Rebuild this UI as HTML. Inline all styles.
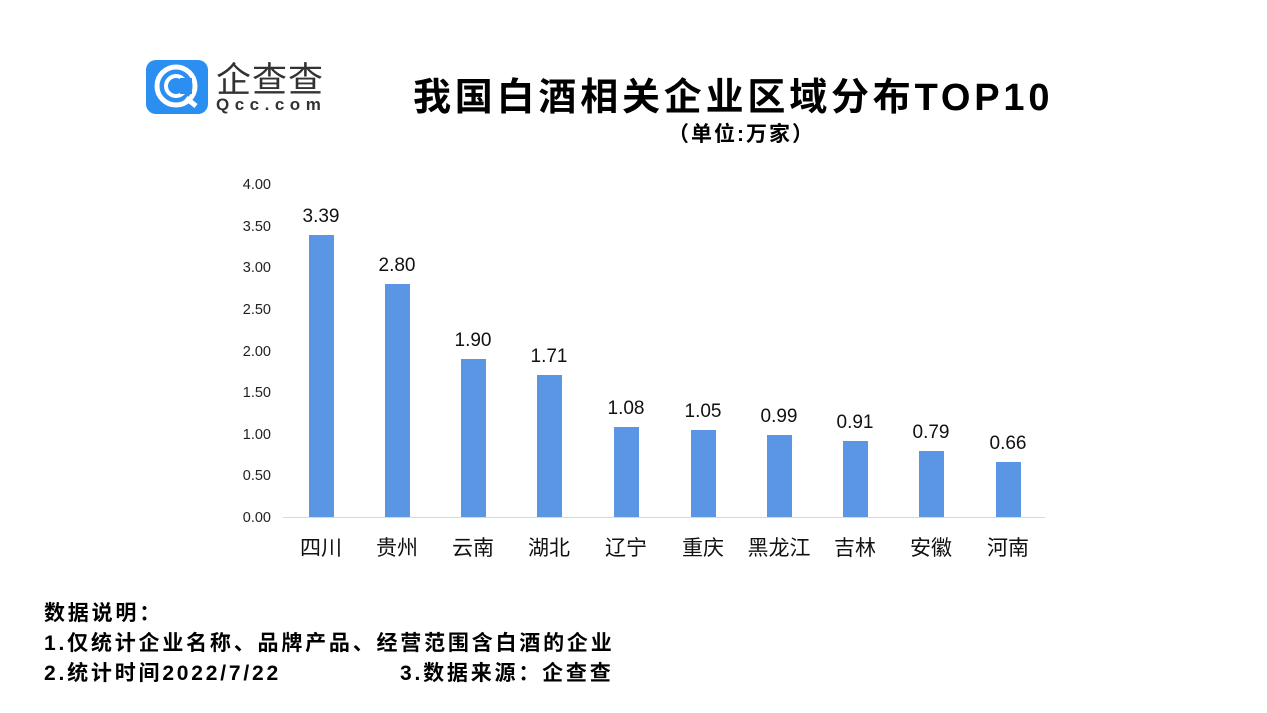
<!DOCTYPE html>
<html><head><meta charset="utf-8"><style>
body{margin:0;width:1267px;height:713px;background:#fff;overflow:hidden;font-family:"Liberation Sans","Noto Sans CJK SC",sans-serif;position:relative}
.a{position:absolute;white-space:nowrap}
</style></head><body>
<svg class="a" style="left:0;top:0" width="1267" height="713">
<rect x="146" y="60" width="62" height="54" rx="10" fill="#2a8ff0"/>
<circle cx="176" cy="86" r="19" fill="none" stroke="#fff" stroke-width="5"/>
<circle cx="176" cy="86" r="10" fill="none" stroke="#fff" stroke-width="4"/>
<rect x="180" y="78" width="12" height="16" fill="#2a8ff0"/>
<line x1="186" y1="98" x2="196" y2="106" stroke="#fff" stroke-width="5"/>
<g font-family="Liberation Sans, Noto Sans CJK SC, sans-serif" font-size="14.5" fill="#222" text-anchor="end">
<text x="271" y="189">4.00</text><text x="271" y="231">3.50</text><text x="271" y="272">3.00</text><text x="271" y="314">2.50</text><text x="271" y="356">2.00</text><text x="271" y="397">1.50</text><text x="271" y="439">1.00</text><text x="271" y="480">0.50</text><text x="271" y="522">0.00</text>
</g>
<line x1="283" y1="517.5" x2="1045" y2="517.5" stroke="#d9d9d9"/>
<g fill="#5b96e5">
<rect x="309" y="235" width="25" height="282"/>
<rect x="385" y="284" width="25" height="233"/>
<rect x="461" y="359" width="25" height="158"/>
<rect x="537" y="375" width="25" height="142"/>
<rect x="614" y="427" width="25" height="90"/>
<rect x="691" y="430" width="25" height="87"/>
<rect x="767" y="435" width="25" height="82"/>
<rect x="843" y="441" width="25" height="76"/>
<rect x="919" y="451" width="25" height="66"/>
<rect x="996" y="462" width="25" height="55"/>
</g>
<g font-family="Liberation Sans, Noto Sans CJK SC, sans-serif" font-size="19" fill="#111" text-anchor="middle">
<text x="321" y="222">3.39</text><text x="397" y="271">2.80</text><text x="473" y="346">1.90</text><text x="549" y="362">1.71</text><text x="626" y="414">1.08</text><text x="703" y="417">1.05</text><text x="779" y="422">0.99</text><text x="855" y="428">0.91</text><text x="931" y="438">0.79</text><text x="1008" y="449">0.66</text>
</g>
<g font-family="Liberation Sans, Noto Sans CJK SC, sans-serif" font-size="21" fill="#111" text-anchor="middle">
<text x="321" y="555">四川</text><text x="397" y="555">贵州</text><text x="473" y="555">云南</text><text x="549" y="555">湖北</text><text x="626" y="555">辽宁</text><text x="703" y="555">重庆</text><text x="779" y="555">黑龙江</text><text x="855" y="555">吉林</text><text x="931" y="555">安徽</text><text x="1008" y="555">河南</text>
</g>
</svg>
<div class="a" style="left:216px;top:52px;font-size:35px;color:#333;letter-spacing:1px">企查查</div>
<div class="a" style="left:216px;top:95px;font-size:17px;color:#333;letter-spacing:5.5px;font-weight:bold">Qcc.com</div>
<div class="a" style="left:413px;top:66px;font-size:38px;font-weight:bold;color:#000;letter-spacing:3.8px">我国白酒相关企业区域分布TOP10</div>
<div class="a" style="left:668px;top:118px;font-size:21px;font-weight:bold;color:#000;letter-spacing:2px">（单位:万家）</div>
<div class="a" style="left:44px;top:599px;font-size:21px;font-weight:bold;line-height:30px;color:#000;letter-spacing:2.8px">数据说明：<br>1.仅统计企业名称、品牌产品、经营范围含白酒的企业<br>2.统计时间2022/7/22</div>
<div class="a" style="left:400px;top:659px;font-size:21px;font-weight:bold;line-height:30px;color:#000;letter-spacing:2.8px">3.数据来源：企查查</div>
</body></html>
